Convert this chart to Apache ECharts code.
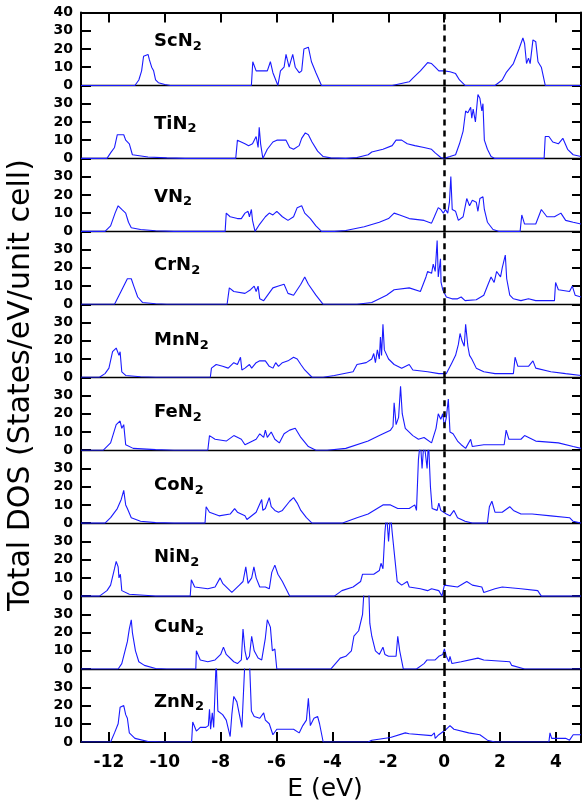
<!DOCTYPE html>
<html>
<head>
<meta charset="utf-8">
<script src="https://cdn.jsdelivr.net/npm/echarts@6/dist/echarts.min.js"></script>
<style>html,body{margin:0;padding:0;background:#fff}#c{width:583px;height:806px}</style>
</head>
<body>
<div id="c"></div>
<script>
// ---- data: [E (eV), DOS] pairs ----
const ScN2 = [[-13,0],[-11.07,0],[-10.93,3],[-10.83,8],[-10.76,16],[-10.6,17],[-10.55,14],[-10.47,10],[-10.4,8],[-10.33,3],[-10.23,1.5],[-10.0,0.5],[-9.8,0],[-6.9,0],[-6.85,13],[-6.73,8],[-6.33,8],[-6.22,13],[-6.13,7],[-5.95,0],[-5.86,8],[-5.73,10],[-5.66,17],[-5.55,10],[-5.42,17],[-5.33,10],[-5.19,7],[-5.1,8],[-5.02,20],[-4.86,21],[-4.75,13],[-4.59,7],[-4.39,0],[-1.86,0],[-1.25,2],[-1.12,4],[-0.85,8],[-0.59,12.5],[-0.45,12],[-0.32,10],[-0.19,8],[0,8],[0.21,7.5],[0.41,6.5],[0.55,3],[0.75,0],[1.82,0],[2.08,3],[2.22,7],[2.48,12],[2.68,20],[2.82,26],[2.88,23],[2.95,12],[3.02,15],[3.08,12],[3.18,25],[3.28,24],[3.36,13],[3.48,10],[3.62,0],[4.9,0]];
const TiN2 = [[-13,0],[-12.07,0],[-11.94,3],[-11.8,6],[-11.7,13],[-11.47,13],[-11.4,10],[-11.27,8],[-11.16,2],[-10.6,0.8],[-9.93,0.3],[-9.27,0],[-7.46,0],[-7.4,10],[-7.13,8],[-7.0,7],[-6.86,8],[-6.73,12],[-6.69,13],[-6.66,6],[-6.62,17],[-6.57,8],[-6.49,0],[-6.33,5],[-6.13,9],[-5.99,10],[-5.66,10],[-5.53,6],[-5.39,5],[-5.19,7],[-5.1,11],[-4.97,14],[-4.86,13],[-4.73,9],[-4.53,4],[-4.33,1],[-4.06,0.3],[-3.52,0],[-3.12,0.5],[-2.72,2],[-2.59,3.5],[-2.19,5],[-1.86,7],[-1.72,10],[-1.52,10],[-1.32,8],[-1.05,7],[-0.72,6],[-0.45,5],[-0.32,3],[-0.12,0.5],[0,0],[0.21,1],[0.41,2],[0.55,8],[0.68,15],[0.77,26],[0.85,25],[0.95,28],[0.99,22],[1.04,27],[1.12,20],[1.21,35],[1.28,33],[1.35,26],[1.39,30],[1.44,10],[1.55,5],[1.68,1],[1.82,0],[3.58,0],[3.62,12],[3.75,12],[3.89,9],[4.09,8],[4.25,11],[4.42,5],[4.62,2],[4.9,1]];
const VN2 = [[-13,0],[-12.14,0],[-11.94,3],[-11.78,10],[-11.67,14],[-11.54,12],[-11.4,10],[-11.3,5],[-11.2,2],[-10.87,1],[-10.33,0.3],[-9.67,0],[-7.84,0],[-7.8,10],[-7.66,8],[-7.4,7],[-7.26,7],[-7.13,10],[-7.02,11],[-6.97,8],[-6.9,12],[-6.86,6],[-6.77,0],[-6.6,4],[-6.4,8],[-6.26,10],[-6.13,9],[-5.99,11],[-5.79,8],[-5.59,6],[-5.39,8],[-5.26,13],[-5.1,14],[-4.99,10],[-4.79,7],[-4.59,3],[-4.39,0],[-3.93,0],[-3.52,0.5],[-2.86,2.5],[-2.32,5],[-1.99,7],[-1.79,10],[-1.59,9],[-1.25,7],[-0.72,6],[-0.45,4.5],[-0.35,8],[-0.21,13],[-0.12,12],[-0.03,10],[0.05,12],[0.13,10],[0.19,16],[0.24,30],[0.29,12],[0.41,11],[0.51,6],[0.68,8],[0.81,18],[0.91,14],[1.01,17],[1.15,16],[1.21,11],[1.28,18],[1.39,19],[1.44,12],[1.55,5],[1.75,1],[1.95,0],[2.72,0],[2.78,9],[2.88,4],[3.28,4],[3.48,12],[3.68,8],[3.95,8],[4.18,10],[4.35,6],[4.62,5],[4.9,4]];
const CrN2 = [[-13,0],[-11.8,0],[-11.6,6],[-11.34,14],[-11.2,14],[-11.11,10],[-10.97,4],[-10.8,1],[-10.33,0.3],[-9.93,0],[-7.77,0],[-7.69,9],[-7.53,7],[-7.13,6],[-6.93,8],[-6.8,10],[-6.73,7],[-6.66,10],[-6.6,3],[-6.46,2],[-6.13,9],[-5.93,10],[-5.73,11],[-5.59,6],[-5.39,5],[-5.13,11],[-4.99,15],[-4.86,11],[-4.59,5],[-4.33,0],[-3.12,0],[-2.59,1],[-2.06,5],[-1.79,8],[-1.25,9],[-0.85,7],[-0.65,15],[-0.59,18],[-0.45,17],[-0.39,22],[-0.32,18],[-0.25,35],[-0.21,15],[-0.13,25],[-0.11,12],[-0.05,8],[0.08,4],[0.28,3],[0.48,3],[0.61,4],[0.75,2],[1.15,2.5],[1.42,5],[1.55,10],[1.68,15],[1.79,12],[1.88,18],[2.02,15],[2.08,20],[2.19,27],[2.24,14],[2.35,5],[2.48,3],[2.75,2],[3.02,3],[3.28,2],[3.95,2],[3.99,12],[4.09,8],[4.49,7],[4.59,10],[4.69,5],[4.9,4]];
const MnN2 = [[-13,0],[-12.34,0],[-12.14,2],[-12.0,5],[-11.87,14],[-11.74,16],[-11.64,12],[-11.6,14],[-11.54,3],[-11.4,1],[-10.87,0.3],[-10.33,0],[-8.37,0],[-8.33,5],[-8.16,7],[-7.93,6],[-7.73,5],[-7.53,8],[-7.4,7],[-7.29,11],[-7.24,4],[-7.13,5],[-6.97,7],[-6.89,5],[-6.73,8],[-6.6,9],[-6.4,9],[-6.26,6],[-6.13,5],[-6.03,8],[-5.93,6],[-5.79,8],[-5.59,9],[-5.39,11],[-5.26,10],[-5.13,7],[-4.99,4],[-4.73,0],[-4.33,0],[-3.93,1],[-3.26,3],[-3.12,7],[-2.79,8],[-2.59,10],[-2.52,13],[-2.46,8],[-2.39,15],[-2.32,10],[-2.28,22],[-2.24,12],[-2.19,29],[-2.14,15],[-1.99,10],[-1.79,7],[-1.52,5],[-1.25,7],[-1.12,4],[-0.59,3],[-0.19,2],[0.08,2],[0.28,8],[0.41,12],[0.51,18],[0.57,24],[0.64,20],[0.72,17],[0.77,29],[0.85,17],[0.91,12],[0.99,10],[1.15,5],[1.42,3],[1.82,2],[2.48,2],[2.54,11],[2.64,6],[3.02,6],[3.18,9],[3.28,5],[3.82,3],[4.35,2],[4.9,1]];
const FeN2 = [[-13,0],[-12.2,0],[-11.94,4],[-11.74,14],[-11.6,16],[-11.54,12],[-11.47,14],[-11.4,3],[-11.13,1],[-10.33,0.3],[-9.67,0],[-8.46,0],[-8.4,8],[-8.2,6],[-7.8,5],[-7.53,8],[-7.26,6],[-7.13,3],[-7.0,4],[-6.73,6],[-6.6,9],[-6.46,7],[-6.4,11],[-6.33,7],[-6.19,10],[-6.06,6],[-5.9,4],[-5.73,9],[-5.53,11],[-5.33,12],[-5.13,7],[-4.86,2],[-4.59,0],[-4.19,0],[-3.52,1],[-2.72,5],[-2.32,8],[-1.92,11],[-1.83,13],[-1.79,26],[-1.72,14],[-1.63,18],[-1.56,35],[-1.5,20],[-1.39,12],[-1.12,8],[-0.92,6],[-0.72,7],[-0.45,4],[-0.29,12],[-0.21,20],[-0.12,17],[-0.05,20],[0.01,13],[0.08,18],[0.15,28],[0.21,10],[0.32,9],[0.48,5],[0.61,3],[0.77,1],[0.95,6],[1.01,2],[1.42,3],[1.82,3],[2.15,3],[2.22,11],[2.32,6],[2.75,6],[2.88,8],[3.28,5],[4.09,4],[4.62,2],[4.9,1]];
const CoN2 = [[-13,0],[-12.14,0],[-11.94,3],[-11.7,8],[-11.56,13],[-11.47,18],[-11.4,10],[-11.34,8],[-11.2,3],[-10.87,1],[-10.33,0.3],[-9.67,0],[-8.56,0],[-8.52,9],[-8.4,6],[-8.06,4],[-7.66,5],[-7.5,8],[-7.4,6],[-7.13,4],[-7.06,2],[-6.73,6],[-6.53,13],[-6.49,7],[-6.4,8],[-6.26,14],[-6.19,9],[-6.06,7],[-5.93,6],[-5.79,7],[-5.53,12],[-5.39,14],[-5.26,11],[-5.13,7],[-4.93,3],[-4.73,0],[-3.66,0],[-3.12,3],[-2.72,5],[-2.19,10],[-1.92,10],[-1.66,8],[-1.25,8],[-1.05,10],[-0.99,7],[-0.92,35],[-0.85,45],[-0.79,30],[-0.72,45],[-0.65,45],[-0.61,30],[-0.56,45],[-0.49,20],[-0.43,8],[-0.25,7],[-0.19,11],[-0.12,7],[0.08,5],[0.21,4],[0.35,7],[0.48,3],[0.75,1],[1.01,0],[1.55,0],[1.62,9],[1.71,12],[1.82,6],[2.08,6],[2.35,9],[2.48,7],[2.75,5],[3.15,5],[3.82,4],[4.49,3],[4.62,1],[4.9,0]];
const NiN2 = [[-13,0],[-12.34,0],[-12.07,3],[-11.94,6],[-11.8,15],[-11.74,19],[-11.67,16],[-11.64,10],[-11.59,12],[-11.54,3],[-11.27,1],[-10.6,0.3],[-10.33,0],[-9.09,0],[-9.05,9],[-8.93,5],[-8.46,4],[-8.2,5],[-8.02,10],[-7.93,7],[-7.6,2],[-7.33,6],[-7.2,8],[-7.1,16],[-7.02,7],[-6.89,10],[-6.81,16],[-6.73,10],[-6.6,5],[-6.4,5],[-6.26,4],[-6.17,13],[-6.06,17],[-5.95,12],[-5.79,8],[-5.66,4],[-5.53,0],[-3.93,0],[-3.66,3],[-3.26,5],[-2.99,8],[-2.92,12],[-2.52,12],[-2.32,14],[-2.26,18],[-2.19,15],[-2.12,35],[-2.06,45],[-1.99,30],[-1.92,45],[-1.86,35],[-1.76,20],[-1.68,8],[-1.52,6],[-1.32,8],[-1.25,5],[-0.85,4],[-0.59,3],[-0.45,4],[-0.19,3],[-0.08,0],[0.01,6],[0.08,5],[0.48,5],[0.81,8],[1.01,6],[1.35,5],[1.42,2],[1.82,4],[2.08,5],[2.75,4],[3.35,3],[3.48,0],[4.9,0]];
const CuN2 = [[-13,0],[-11.67,0],[-11.54,3],[-11.34,15],[-11.27,22],[-11.2,27],[-11.16,20],[-11.11,19],[-11.05,10],[-10.93,4],[-10.73,2],[-10.33,0.3],[-9.93,0],[-8.89,0],[-8.87,10],[-8.8,9],[-8.73,5],[-8.46,4],[-8.2,5],[-8.0,8],[-7.9,12],[-7.8,8],[-7.53,4],[-7.4,3],[-7.26,5],[-7.2,22],[-7.13,10],[-7.06,5],[-6.97,7],[-6.89,18],[-6.8,10],[-6.66,6],[-6.53,5],[-6.4,17],[-6.33,27],[-6.22,23],[-6.15,10],[-6.06,11],[-5.99,0],[-4.06,0],[-3.72,6],[-3.52,7],[-3.32,10],[-3.23,18],[-3.06,21],[-2.92,30],[-2.86,45],[-2.7,45],[-2.66,25],[-2.59,18],[-2.46,10],[-2.32,8],[-2.19,12],[-2.12,8],[-1.99,7],[-1.72,7],[-1.66,18],[-1.59,10],[-1.46,0],[-0.99,0],[-0.72,3],[-0.61,5],[-0.59,4],[-0.32,5],[-0.19,7],[-0.05,8],[0.01,11],[0.08,7],[0.17,4],[0.21,7],[0.28,3],[0.61,4],[1.21,6],[1.42,5],[2.35,4],[2.42,2],[2.88,0],[4.9,0]];
const ZnN2 = [[-13,0],[-11.94,0],[-11.8,5],[-11.67,10],[-11.6,19],[-11.47,20],[-11.4,15],[-11.34,13],[-11.27,5],[-11.07,2],[-10.6,0.3],[-10.07,0],[-9.04,0],[-9.0,11],[-8.93,10],[-8.87,6],[-8.73,8],[-8.53,8],[-8.44,9],[-8.4,18],[-8.36,7],[-8.3,16],[-8.25,8],[-8.2,9],[-8.16,45],[-8.1,17],[-7.93,15],[-7.8,12],[-7.66,3],[-7.6,15],[-7.53,25],[-7.42,22],[-7.33,15],[-7.24,8],[-7.13,45],[-6.97,45],[-6.9,17],[-6.8,14],[-6.6,13],[-6.46,16],[-6.4,12],[-6.26,10],[-6.13,4],[-5.99,7],[-5.79,7],[-5.39,7],[-5.19,5],[-5.06,9],[-4.93,12],[-4.86,24],[-4.79,9],[-4.66,13],[-4.53,14],[-4.46,10],[-4.33,0],[-2.72,0],[-2.59,1],[-1.92,2.5],[-1.39,5],[-1.25,4.5],[-0.45,3.5],[-0.35,5],[-0.32,2],[-0.19,4],[0.08,7],[0.21,9],[0.35,7],[0.88,5],[1.28,4],[1.55,1],[1.82,0],[3.75,0],[3.79,5],[3.85,2],[4.35,2],[4.42,3],[4.49,1],[4.62,4],[4.9,4]];

const metals = ['Sc','Ti','V','Cr','Mn','Fe','Co','Ni','Cu','Zn'];
const seriesData = [ScN2, TiN2, VN2, CrN2, MnN2, FeN2, CoN2, NiN2, CuN2, ZnN2];
const xTicks = [-12,-10,-8,-6,-4,-2,0,2,4];
const yTicks = [10,20,30,40];
const yLabelsTop = [0,10,20,30,40];
const yLabels = [0,10,20,30];
const fermiLevel = 0;
const xMin = -13, xMax = 4.9, yMin = 0, yMax = 40;

// ---- layout ----
const L = 81, W = 500, TOP = 12.5, H = 72.95;
const labelOffset = [29, 38.5, 38.5, 34, 36, 35, 35, 34, 31, 33];
const FONT = 'DejaVu Sans';
const BLUE = '#1a1aff';

const grids = [], xAxes = [], yAxes = [], series = [], graphics = [];
for (let i = 0; i < 10; i++) {
  const top = TOP + H * i;
  grids.push({ left: L, width: W, top: top, height: H });
  const last = i === 9;
  xAxes.push({
    gridIndex: i, type: 'value', min: xMin, max: xMax, position: 'bottom',
    axisLine: { show: true, onZero: false, lineStyle: { color: '#000', width: last ? 2 : 1.3 } },
    axisTick: { show: last, inside: true, length: 10, customValues: xTicks, lineStyle: { color: '#000', width: 2 } },
    axisLabel: { show: last, customValues: xTicks, color: '#000', fontFamily: FONT, fontWeight: 'bold', fontSize: 17, margin: 12 },
    splitLine: { show: false }
  });
  yAxes.push({
    gridIndex: i, type: 'value', min: yMin, max: yMax, position: 'left',
    axisLine: { show: true, onZero: false, lineStyle: { color: '#000', width: 2 } },
    axisTick: { show: true, inside: true, length: 10, customValues: yTicks, lineStyle: { color: '#000', width: 2 } },
    axisLabel: { show: true, customValues: i === 0 ? yLabelsTop : yLabels, color: '#000', fontFamily: FONT, fontWeight: 'bold', fontSize: 14, margin: 8 },
    splitLine: { show: false }
  });
  series.push({
    type: 'line', xAxisIndex: i, yAxisIndex: i,
    data: seriesData[i], showSymbol: false, symbol: 'none', clip: true, animation: false,
    lineStyle: { color: BLUE, width: 1.1 },
    markLine: {
      silent: true, symbol: ['none', 'none'], animation: false, label: { show: false },
      lineStyle: { color: '#000', width: 2.5, type: [6, 5] },
      data: [{ xAxis: fermiLevel }]
    }
  });
  graphics.push({
    type: 'text', x: 154, y: top + labelOffset[i],
    style: {
      text: '{m|' + metals[i] + 'N}{s|2}',
      textVerticalAlign: 'middle', verticalAlign: 'middle',
      rich: {
        m: { fontFamily: FONT, fontWeight: 'bold', fontSize: 18, fill: '#000', color: '#000' },
        s: { fontFamily: FONT, fontWeight: 'bold', fontSize: 13, fill: '#000', color: '#000', padding: [10, 0, 0, 0] }
      }
    }
  });
}
// top frame of first panel
xAxes.push({
  gridIndex: 0, type: 'value', min: xMin, max: xMax, position: 'top',
  axisLine: { show: true, onZero: false, lineStyle: { color: '#000', width: 2 } },
  axisTick: { show: true, inside: true, length: 10, customValues: xTicks, lineStyle: { color: '#000', width: 2 } },
  axisLabel: { show: false }, splitLine: { show: false }
});
// right frame of every panel
for (let i = 0; i < 10; i++) {
  yAxes.push({
    gridIndex: i, type: 'value', min: yMin, max: yMax, position: 'right',
    axisLine: { show: true, onZero: false, lineStyle: { color: '#000', width: 2 } },
    axisTick: { show: true, inside: true, length: 9, customValues: yTicks, lineStyle: { color: '#000', width: 2 } },
    axisLabel: { show: false }, splitLine: { show: false }
  });
}
graphics.push({
  type: 'text', x: 21, y: 385, rotation: Math.PI / 2,
  style: { text: 'Total DOS (States/eV/unit cell)', fontFamily: FONT, fontSize: 30, fill: '#000',
           textAlign: 'center', textVerticalAlign: 'middle', align: 'center', verticalAlign: 'middle' }
});
graphics.push({
  type: 'text', x: 325, y: 789,
  style: { text: 'E (eV)', fontFamily: FONT, fontSize: 25, fill: '#000',
           textAlign: 'center', textVerticalAlign: 'middle', align: 'center', verticalAlign: 'middle' }
});

const chart = echarts.init(document.getElementById('c'), null, { renderer: 'canvas' });
chart.setOption({
  animation: false,
  backgroundColor: '#fff',
  grid: grids, xAxis: xAxes, yAxis: yAxes, series: series,
  graphic: { elements: graphics }
});
</script>
</body>
</html>
